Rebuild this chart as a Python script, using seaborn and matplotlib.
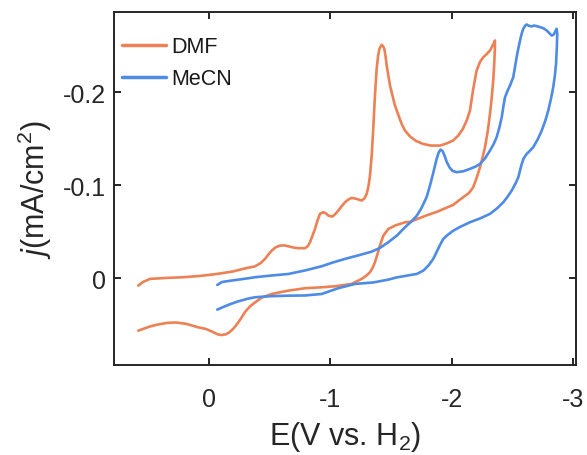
import numpy as np
import pandas as pd
import matplotlib
matplotlib.use("Agg")
import matplotlib.pyplot as plt
import seaborn as sns

# ---- data (potential in V vs H2, current density in mA/cm^2) ----
dmf_E = [0.586, 0.547, 0.489, 0.366, 0.217, 0.077, -0.061, -0.196, -0.295, -0.377,
         -0.424, -0.460, -0.488, -0.515, -0.546, -0.583, -0.616, -0.652, -0.691, -0.734,
         -0.790, -0.814, -0.831, -0.851, -0.872, -0.892, -0.913, -0.941, -0.963, -0.982,
         -1.015, -1.037, -1.064, -1.091, -1.120, -1.149, -1.175, -1.216, -1.257, -1.280,
         -1.299, -1.314, -1.326, -1.340, -1.353, -1.367, -1.381, -1.393, -1.404, -1.422,
         -1.434, -1.444, -1.454, -1.464, -1.491, -1.532, -1.587, -1.615, -1.656, -1.705,
         -1.763, -1.829, -1.904, -1.961, -2.011, -2.052, -2.093, -2.126, -2.151, -2.178,
         -2.206, -2.234, -2.261, -2.291, -2.316, -2.341, -2.357,
         -2.357, -2.351, -2.343, -2.331, -2.316, -2.298, -2.275, -2.254, -2.234, -2.206,
         -2.178, -2.143, -2.093, -2.011, -1.945, -1.876, -1.804, -1.739, -1.656, -1.615,
         -1.532, -1.477, -1.436, -1.408, -1.388, -1.367, -1.347, -1.326, -1.293, -1.257,
         -1.175, -1.037, -0.927, -0.790, -0.652, -0.515, -0.435, -0.377, -0.336, -0.295,
         -0.259, -0.224, -0.196, -0.163, -0.138, -0.102, -0.068, -0.039, 0.027, 0.101,
         0.186, 0.275, 0.351, 0.423, 0.489, 0.547, 0.586]
dmf_j = [0.0077, 0.0038, 0.0005, -0.0005, -0.0013, -0.0027, -0.0048, -0.0075, -0.0108, -0.0130,
         -0.0165, -0.0210, -0.0258, -0.0299, -0.0333, -0.0353, -0.0355, -0.0346, -0.0333, -0.0325,
         -0.0325, -0.0349, -0.0389, -0.0457, -0.0532, -0.0618, -0.0694, -0.0712, -0.0699, -0.0675,
         -0.0665, -0.0688, -0.0729, -0.0774, -0.0819, -0.0849, -0.0866, -0.0855, -0.0837, -0.0860,
         -0.0909, -0.0995, -0.1105, -0.1320, -0.1608, -0.1966, -0.2253, -0.2392, -0.2468, -0.2511,
         -0.2495, -0.2468, -0.2392, -0.2288, -0.2073, -0.1858, -0.1661, -0.1589, -0.1527, -0.1478,
         -0.1446, -0.1428, -0.1428, -0.1452, -0.1482, -0.1532, -0.1608, -0.1704, -0.1804, -0.2038,
         -0.2234, -0.2328, -0.2378, -0.2414, -0.2449, -0.2511, -0.2557,
         -0.2486, -0.2306, -0.2127, -0.1952, -0.1769, -0.1586, -0.1411, -0.1296, -0.1196, -0.1081,
         -0.0981, -0.0919, -0.0871, -0.0790, -0.0753, -0.0715, -0.0683, -0.0651, -0.0608, -0.0604,
         -0.0568, -0.0532, -0.0460, -0.0353, -0.0263, -0.0174, -0.0113, -0.0067, -0.0027, 0.0005,
         0.0059, 0.0084, 0.0095, 0.0105, 0.0131, 0.0167, 0.0204, 0.0258, 0.0300, 0.0360,
         0.0435, 0.0500, 0.0543, 0.0581, 0.0600, 0.0608, 0.0600, 0.0581, 0.0543, 0.0522,
         0.0489, 0.0473, 0.0478, 0.0495, 0.0516, 0.0543, 0.0561]

mecn_E = [-0.066, -0.105, -0.177, -0.311, -0.377, -0.501, -0.652, -0.790, -0.927, -1.021,
          -1.120, -1.227, -1.340, -1.408, -1.477, -1.549, -1.615, -1.664, -1.711, -1.747,
          -1.794, -1.821, -1.850, -1.876, -1.893, -1.909, -1.926, -1.942, -1.959, -1.982,
          -2.007, -2.041, -2.093, -2.151, -2.200, -2.234, -2.275, -2.316, -2.345, -2.371,
          -2.393, -2.413, -2.426, -2.440, -2.461, -2.481, -2.508, -2.522, -2.536, -2.550,
          -2.564, -2.577, -2.591, -2.605, -2.619, -2.638, -2.660, -2.679, -2.700, -2.729,
          -2.758, -2.784, -2.807, -2.825, -2.840, -2.852, -2.866,
          -2.871, -2.867, -2.861, -2.851, -2.838, -2.819, -2.797, -2.772, -2.743, -2.710,
          -2.673, -2.645, -2.619, -2.594, -2.578, -2.564, -2.550, -2.525, -2.495, -2.462,
          -2.426, -2.374, -2.316, -2.234, -2.151, -2.069, -2.011, -1.961, -1.931, -1.904,
          -1.876, -1.848, -1.809, -1.766, -1.711, -1.629, -1.546, -1.477, -1.353, -1.202,
          -1.064, -0.927, -0.790, -0.652, -0.501, -0.377, -0.311, -0.237, -0.177, -0.117,
          -0.066]
mecn_j = [0.0070, 0.0038, 0.0024, 0.0000, -0.0013, -0.0030, -0.0048, -0.0086, -0.0131, -0.0172,
          -0.0210, -0.0247, -0.0288, -0.0328, -0.0389, -0.0462, -0.0551, -0.0608, -0.0672, -0.0747,
          -0.0876, -0.0998, -0.1145, -0.1285, -0.1355, -0.1385, -0.1366, -0.1317, -0.1253, -0.1194,
          -0.1156, -0.1142, -0.1151, -0.1177, -0.1204, -0.1231, -0.1290, -0.1374, -0.1441, -0.1518,
          -0.1618, -0.1733, -0.1844, -0.1948, -0.2016, -0.2073, -0.2163, -0.2269, -0.2378, -0.2473,
          -0.2557, -0.2629, -0.2683, -0.2715, -0.2729, -0.2715, -0.2708, -0.2718, -0.2712, -0.2701,
          -0.2688, -0.2665, -0.2634, -0.2611, -0.2618, -0.2647, -0.2683,
          -0.2629, -0.2468, -0.2306, -0.2177, -0.2056, -0.1930, -0.1804, -0.1694, -0.1589, -0.1495,
          -0.1411, -0.1371, -0.1339, -0.1290, -0.1231, -0.1161, -0.1088, -0.1016, -0.0944, -0.0880,
          -0.0819, -0.0753, -0.0694, -0.0645, -0.0604, -0.0554, -0.0511, -0.0462, -0.0425, -0.0360,
          -0.0285, -0.0210, -0.0140, -0.0084, -0.0048, -0.0030, -0.0011, 0.0013, 0.0043, 0.0059,
          0.0105, 0.0167, 0.0183, 0.0185, 0.0191, 0.0202, 0.0220, 0.0247, 0.0274, 0.0306,
          0.0335]

solvents = ["DMF", "MeCN"]
colors = ["#EC8155", "#4D8BE6"]
x_ticks = [0, -1, -2, -3]
y_ticks = [0, -0.1, -0.2]
y_ticklabels = ["0", "-0.1", "-0.2"]

df = pd.concat([
    pd.DataFrame({"E": dmf_E, "j": dmf_j, "solvent": "DMF"}),
    pd.DataFrame({"E": mecn_E, "j": mecn_j, "solvent": "MeCN"}),
], ignore_index=True)

sns.set_style("ticks")
plt.rcParams["font.family"] = ["Liberation Sans", "DejaVu Sans"]
plt.rcParams["mathtext.fontset"] = "custom"
plt.rcParams["mathtext.rm"] = "Liberation Sans"
plt.rcParams["mathtext.it"] = "Liberation Sans:italic"

fig = plt.figure(figsize=(5.87, 4.56), dpi=100)
ax = fig.add_axes([0.1942, 0.198, 0.7865, 0.7728])

sns.lineplot(data=df, x="E", y="j", hue="solvent", hue_order=solvents,
             palette=colors, sort=False, estimator=None, units="solvent",
             linewidth=1.9, ax=ax)

ax.set_xlim(0.786, -3.023)
ax.set_ylim(0.0927, -0.286)
ax.set_xticks(x_ticks)
ax.set_xticklabels([str(t) for t in x_ticks])
ax.set_yticks(y_ticks)
ax.set_yticklabels(y_ticklabels)

for s in ax.spines.values():
    s.set_visible(True)
    s.set_linewidth(1.4)
    s.set_color("#262626")
ax.tick_params(direction="in", length=5, width=1.4, color="#262626",
               top=True, right=True, labelsize=18, labelcolor="#262626")
ax.tick_params(axis="x", pad=16)
ax.tick_params(axis="y", pad=6)

ax.set_xlabel("E(V vs. H$_2$)", fontsize=22, color="#262626", labelpad=6)
ax.set_ylabel("$j$(mA/cm$^2$)", fontsize=22, color="#262626", labelpad=6)

leg = ax.legend(loc="upper left", bbox_to_anchor=(0.017, 0.932), frameon=False,
                fontsize=15.5, handlelength=2.05, handletextpad=0.25, labelspacing=0.5,
                borderaxespad=0.0, borderpad=0.0, labelcolor="#1a1a1a")
for line in leg.get_lines():
    line.set_linewidth(2.5)

fig.savefig("out.png", dpi=100)
